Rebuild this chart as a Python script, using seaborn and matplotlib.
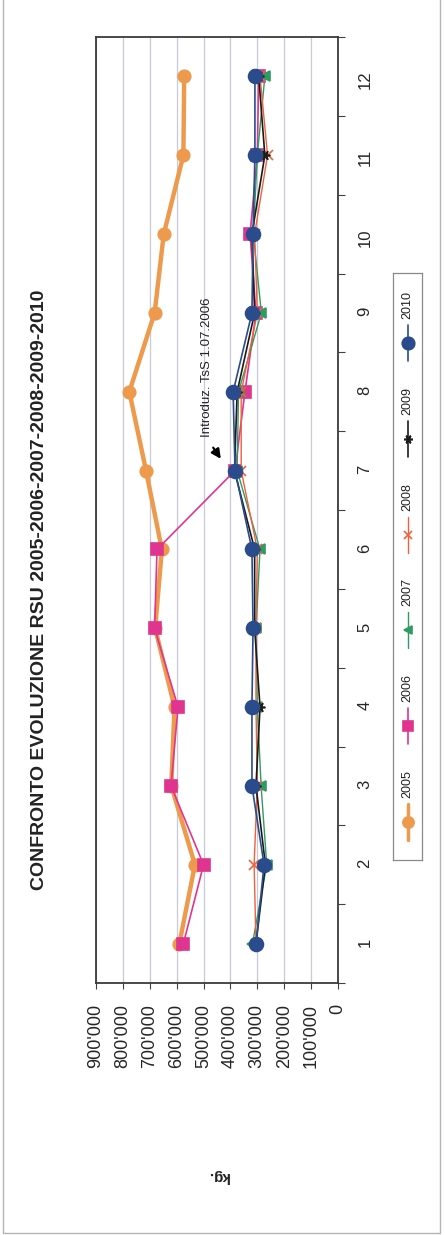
import numpy as np
import pandas as pd
import matplotlib
matplotlib.use("Agg")
import matplotlib.pyplot as plt
import matplotlib.ticker as mticker
from matplotlib.patches import Rectangle
from matplotlib.lines import Line2D
import seaborn as sns

# Data (kg per month)
months = list(range(1, 13))
rsu_2005 = [590000, 532000, 620000, 608000, 680000, 655000, 714000, 776000, 682000, 648000, 575000, 572000]
rsu_2006 = [575000, 500000, 621000, 595000, 682000, 673000, 383000, 346000, 305000, 327000, 300000, 295000]
rsu_2007 = [318000, 265000, 286000, 300000, 305000, 290000, 375000, 370000, 285000, 315000, 300000, 272000]
rsu_2008 = [305000, 312000, 300000, 305000, 305000, 300000, 360000, 360000, 300000, 310000, 262000, 290000]
rsu_2009 = [305000, 270000, 305000, 290000, 310000, 310000, 385000, 375000, 310000, 320000, 272000, 295000]
rsu_2010 = [305000, 275000, 320000, 320000, 316000, 320000, 383000, 390000, 320000, 316000, 309000, 309000]
years = ["2005", "2006", "2007", "2008", "2009", "2010"]
value_ticks = [0, 100000, 200000, 300000, 400000, 500000, 600000, 700000, 800000, 900000]

title = "CONFRONTO EVOLUZIONE RSU 2005-2006-2007-2008-2009-2010"
note = "Introduz. TsS 1.07.2006"

df = pd.DataFrame({
    "mese": months * 6,
    "kg": rsu_2005 + rsu_2006 + rsu_2007 + rsu_2008 + rsu_2009 + rsu_2010,
    "anno": [y for y in years for _ in months],
})

# series styles (chart is scanned rotated 90 deg, so markers are rotated too)
styles = {
    "2005": dict(color="#EE9A4D", marker="o", markersize=9, linewidth=3.2),
    "2006": dict(color="#E0358F", marker="s", markersize=8, linewidth=1.2),
    "2007": dict(color="#2E9B64", marker="<", markersize=7, linewidth=1.0),
    "2008": dict(color="#F0603A", marker="x", markersize=7, linewidth=1.0),
    "2009": dict(color="#1a1a1a", marker=(6, 2, 90), markersize=7, linewidth=1.2),
    "2010": dict(color="#2B4C8C", marker="o", markersize=10, linewidth=1.2),
}

sns.set_style("white")
plt.rcParams["font.family"] = ["Liberation Sans", "DejaVu Sans"]

W, H = 445, 1235
fig = plt.figure(figsize=(W / 100, H / 100), dpi=100)
ax = fig.add_axes([96 / W, 1 - 983 / H, 242 / W, 946 / H])

for i, y in enumerate(years):
    st = styles[y]
    sns.lineplot(data=df[df["anno"] == y], x="kg", y="mese", orient="y",
                 estimator=None, legend=False, ax=ax,
                 color=st["color"], linewidth=st["linewidth"],
                 marker=st["marker"], markersize=st["markersize"],
                 markeredgecolor=st["color"], markerfacecolor=st["color"],
                 markeredgewidth=1.2, zorder=3 + i)

ax.set_xlim(900000, 0)
ax.set_ylim(0.5, 12.5)
ax.set_xlabel("")
ax.set_ylabel("")

ax.set_xticks(value_ticks)
ax.xaxis.set_major_formatter(mticker.FuncFormatter(
    lambda v, p: "0" if v == 0 else f"{int(v):,}".replace(",", "'")))
ax.tick_params(axis="x", rotation=90, labelsize=13, length=4, width=0.8,
               direction="out", pad=11, bottom=True, color="#404040")
for lab in ax.get_xticklabels():
    lab.set_va("top")

ax.yaxis.tick_right()
ax.set_yticks(months)
ax.set_yticks(np.arange(0.5, 13, 1), minor=True)
ax.tick_params(axis="y", which="major", length=0, labelsize=12, pad=14,
               labelrotation=90)
ax.tick_params(axis="y", which="minor", length=5, width=0.8, direction="out",
               right=True, left=False, color="#404040")

ax.grid(axis="x", color="#c9c9d8", linewidth=0.9)
ax.grid(axis="y", visible=False)
ax.set_axisbelow(True)
for s in ax.spines.values():
    s.set_color("#3a3a3a")
    s.set_linewidth(1.3)

# annotation for the introduction of the tax
ax.annotate("", xy=(430000, 7.12), xytext=(470000, 7.32),
            arrowprops=dict(arrowstyle="-|>", color="black", lw=1.6,
                            mutation_scale=14))
ax.text(487000, 8.31, note, rotation=90, ha="center", va="center",
        fontsize=9.5, color="#222222")

# title and axis title
fig.text(40 / W, 1 - 590 / H, title, rotation=90, ha="center", va="center",
         fontsize=14, fontweight="bold", color="#222222")
fig.text(218 / W, 1 - 1176 / H, "kg.", rotation=180, ha="center", va="center",
         fontsize=11, fontweight="bold", color="#222222")

# legend, drawn by hand because it is rotated with the page
lax = fig.add_axes([393 / W, 1 - 860 / H, 29 / W, 587 / H])
lax.set_xlim(0, 1)
lax.set_ylim(587, 0)
lax.set_xticks([])
lax.set_yticks([])
for s in lax.spines.values():
    s.set_color("#8a8a8a")
    s.set_linewidth(0.9)
for i, y in enumerate(years):
    st = styles[y]
    m = 549 - 95.8 * i
    lax.add_line(Line2D([0.5, 0.5], [m + 18, m - 18], color=st["color"],
                        linewidth=st["linewidth"] if y != "2005" else 2.5))
    lax.add_line(Line2D([0.5], [m], color=st["color"], marker=st["marker"],
                        markersize=st["markersize"] * 0.9,
                        markeredgecolor=st["color"], markerfacecolor=st["color"],
                        markeredgewidth=1.2, linestyle="none"))
    lax.text(0.5, m - 24, y, rotation=90, ha="center", va="bottom",
             fontsize=9, color="#222222")

# outer chart border
fig.patches.append(Rectangle((3 / W, 2 / H), 437 / W, 1.05, transform=fig.transFigure,
                             fill=False, edgecolor="#b5b5b5", linewidth=1.0))

fig.savefig("out.png", dpi=100)
